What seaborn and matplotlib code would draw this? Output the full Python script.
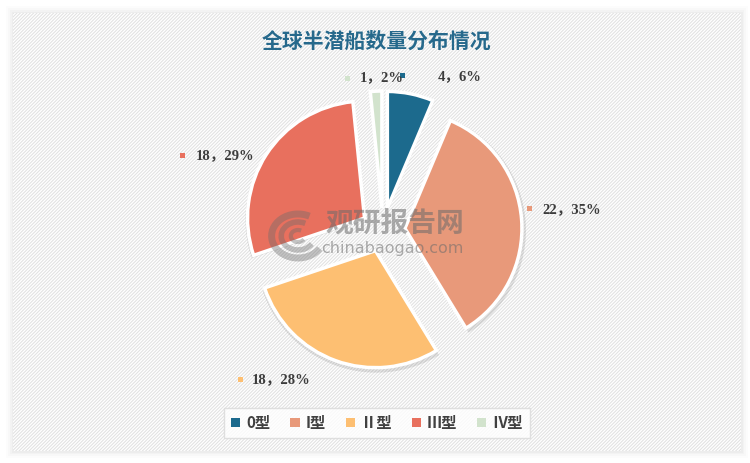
import matplotlib
matplotlib.use("Agg")
import matplotlib.pyplot as plt
import matplotlib.patches as mpatches
import seaborn as sns

# data
types = ["0型", "I型", "Ⅱ型", "Ⅲ型", "Ⅳ型"]
counts = [4, 22, 18, 18, 1]
shares = ["6%", "35%", "28%", "29%", "2%"]
colors = ["#1c6a8d", "#e8997a", "#fdbf72", "#e8705e", "#d2e3cd"]

sns.set_theme(style="white")
plt.rcParams["font.family"] = ["Noto Sans CJK SC", "DejaVu Sans"]
plt.rcParams["hatch.linewidth"] = 0.8

W, H = 750, 463
fig = plt.figure(figsize=(7.5, 4.63), dpi=100, facecolor="white")
ax = fig.add_axes([0, 0, 1, 1])
ax.set_xlim(0, W)
ax.set_ylim(0, H)
ax.axis("off")

def py(y):
    # pixel row -> data y
    return H - y

# card shadow + hatched card
for g, a in [(7, 0.012), (5, 0.015), (3, 0.02), (1.5, 0.025)]:
    ax.add_patch(mpatches.Rectangle((13 - g, py(451 + g)), 728 + 2 * g, 438 + 2 * g,
                                    facecolor="black", alpha=a, edgecolor="none", zorder=0))
ax.add_patch(mpatches.Rectangle((13, py(451)), 728, 438, facecolor="white",
                                edgecolor="none", zorder=0.5))
ax.add_patch(mpatches.Rectangle((13, py(451)), 728, 438, facecolor="none",
                                edgecolor="#e2e2e2", hatch="//////////", linewidth=0, zorder=0.6))

# pie
cx, cy, r = 383, py(230), 117
ax.pie(counts, colors=["#000000"] * 5, startangle=90, counterclock=False,
       explode=[22] * 5, radius=r + 3, center=(cx + 1, cy - 2), frame=True,
       wedgeprops=dict(alpha=0.10, linewidth=0))
wedges, _ = ax.pie(counts, colors=colors, startangle=90, counterclock=False,
                   explode=[22] * 5, radius=r, center=(cx, cy), frame=True,
                   wedgeprops=dict(edgecolor="white", linewidth=2.5))
ax.set_xlim(0, W)
ax.set_ylim(0, H)
ax.axis("off")

# watermark
ax.text(395, py(224), "观研报告网", fontsize=20, fontweight="bold", color="#6b6b6b",
        alpha=0.55, ha="center", va="center", zorder=5)
ax.text(392, py(248), "chinabaogao.com", fontsize=11.5, color="#6b6b6b",
        alpha=0.55, ha="center", va="center", family="DejaVu Sans", zorder=5)
for rr, lw in [(22, 5), (14, 4), (6, 3)]:
    ax.add_patch(mpatches.Arc((298, py(236)), rr * 2.4, rr * 2, theta1=60, theta2=330,
                              color="#6b6b6b", alpha=0.4, linewidth=lw, zorder=5))

# data labels: marker position, text start
label_pos = [((402, 75), (438, 77)), ((529, 208), (542, 210)), ((240, 379), (252, 380)),
             ((182, 155), (196, 156)), ((347, 78), (360, 78))]
for (mpos, tpos), c, n, s in zip(label_pos, colors, counts, shares):
    ax.add_patch(mpatches.Rectangle((mpos[0] - 2.5, py(mpos[1]) - 2.5), 5, 5,
                                    facecolor=c, edgecolor="none", zorder=6))
    ax.text(tpos[0], py(tpos[1]), f"{n}，{s}", fontsize=10.5, color="#3c3c3c",
            fontweight="bold", ha="left", va="center",
            family=["Liberation Serif", "Noto Sans CJK SC"], zorder=6)

# title
ax.text(377, py(41), "全球半潜船数量分布情况", fontsize=15, fontweight="bold",
        color="#26698c", ha="center", va="center")

# legend
handles = [mpatches.Patch(facecolor=c, edgecolor="none", label=t) for c, t in zip(colors, types)]
leg = ax.legend(handles=handles, loc="center", bbox_to_anchor=(377 / W, 1 - 423 / H),
                ncol=5, frameon=True, fontsize=11, handlelength=0.6, handleheight=0.6,
                handletextpad=0.4, columnspacing=1.3, borderpad=0.45, fancybox=False,
                prop=dict(family=["Noto Sans CJK SC"], weight="bold", size=11))
leg.get_frame().set_edgecolor("#d9d9d9")
leg.get_frame().set_linewidth(1.0)
for t in leg.get_texts():
    t.set_color("#404040")

fig.savefig("out.png", dpi=100, facecolor="white")
